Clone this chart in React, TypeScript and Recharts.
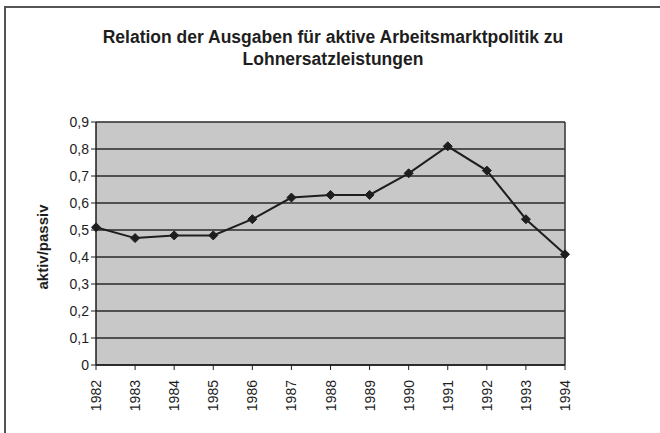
import React from "react";
import {
  LineChart,
  Line,
  XAxis,
  YAxis,
  CartesianGrid,
  ReferenceLine,
} from "recharts";

const years = [
  "1982", "1983", "1984", "1985", "1986", "1987", "1988",
  "1989", "1990", "1991", "1992", "1993", "1994",
];
const ratio = [0.51, 0.47, 0.48, 0.48, 0.54, 0.62, 0.63, 0.63, 0.71, 0.81, 0.72, 0.54, 0.41];
const yTicks = [0, 0.1, 0.2, 0.3, 0.4, 0.5, 0.6, 0.7, 0.8, 0.9];

const data = years.map((year, i) => ({ year, ratio: ratio[i] }));

const FONT = "'Liberation Sans', Arial, sans-serif";
const INK = "#1e1e1e";

const Diamond = (props: any) => {
  const { cx, cy } = props;
  if (cx == null || cy == null) return null;
  const r = 4.5;
  return (
    <path
      d={`M${cx},${cy - r} L${cx + r},${cy} L${cx},${cy + r} L${cx - r},${cy} Z`}
      fill={INK}
      stroke={INK}
    />
  );
};

const YearTick = (props: any) => {
  const { x, y, payload } = props;
  return (
    <text
      x={x}
      y={y}
      transform={`rotate(-90, ${x}, ${y})`}
      dx={-8}
      dy={5}
      textAnchor="end"
      fontSize={14}
      fontFamily={FONT}
      fill={INK}
    >
      {payload.value}
    </text>
  );
};

export default function App() {
  return (
    <div
      style={{
        position: "absolute",
        left: 0,
        top: 0,
        width: 660,
        height: 433,
        background: "#fff",
        overflow: "hidden",
        fontFamily: FONT,
      }}
    >
      <div
        style={{
          position: "absolute",
          left: 4,
          top: 6,
          width: 660,
          height: 440,
          borderTop: "2px solid #555",
          borderLeft: "2px solid #555",
          boxSizing: "border-box",
        }}
      />
      <div
        style={{
          position: "absolute",
          left: 3,
          width: 660,
          top: 26,
          textAlign: "center",
          fontWeight: "bold",
          fontSize: 17.5,
          lineHeight: "22px",
          color: INK,
        }}
      >
        Relation der Ausgaben für aktive Arbeitsmarktpolitik zu
        <br />
        Lohnersatzleistungen
      </div>
      <div
        style={{
          position: "absolute",
          left: 42,
          top: 247,
          transform: "translate(-50%, -50%) rotate(-90deg)",
          fontWeight: "bold",
          fontSize: 15,
          color: INK,
          whiteSpace: "nowrap",
        }}
      >
        aktiv/passiv
      </div>
      <div style={{ position: "absolute", left: 0, top: 0 }}>
        <LineChart
          width={660}
          height={433}
          data={data}
          margin={{ top: 122, right: 95, bottom: 18, left: 60 }}
        >
          <CartesianGrid
            horizontal
            vertical={false}
            fill="#c8c8c8"
            stroke="#2a2a2a"
            strokeWidth={1.3}
          />
          <XAxis
            dataKey="year"
            height={50}
            interval={0}
            tick={<YearTick />}
            tickSize={5}
            tickLine={{ stroke: INK }}
            axisLine={{ stroke: INK, strokeWidth: 1.5 }}
          />
          <YAxis
            width={36}
            domain={[0, 0.9]}
            ticks={yTicks}
            interval={0}
            tickSize={5}
            tickFormatter={(v: number) => (v === 0 ? "0" : v.toFixed(1).replace(".", ","))}
            tick={{ fill: INK, fontSize: 14, fontFamily: FONT }}
            tickLine={{ stroke: INK }}
            axisLine={{ stroke: INK, strokeWidth: 1.5 }}
          />
          <ReferenceLine x="1994" stroke="#333" strokeWidth={1.5} />
          <Line
            type="linear"
            dataKey="ratio"
            stroke={INK}
            strokeWidth={2}
            dot={<Diamond />}
            activeDot={false}
            isAnimationActive={false}
          />
        </LineChart>
      </div>
    </div>
  );
}
